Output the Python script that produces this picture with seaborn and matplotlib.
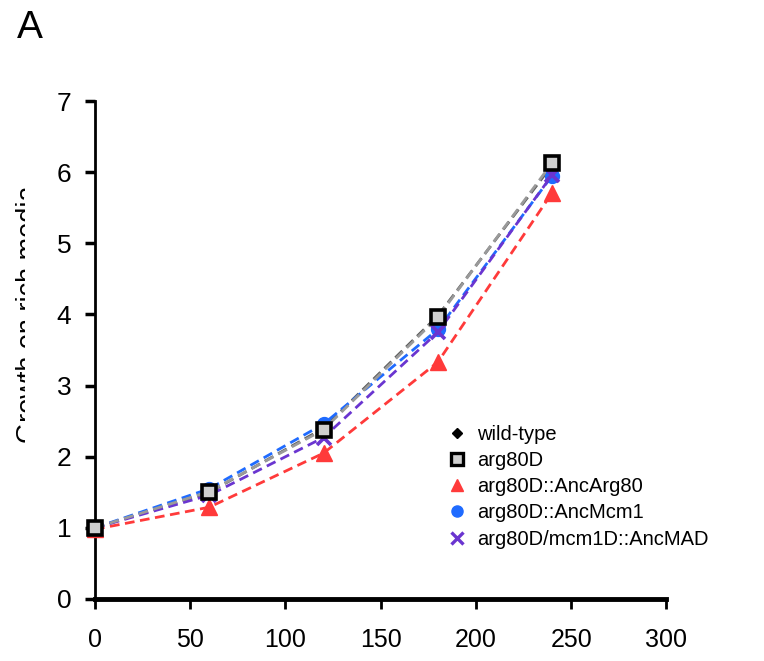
import numpy as np
import pandas as pd
import matplotlib
matplotlib.use("Agg")
import matplotlib.pyplot as plt
import seaborn as sns
from matplotlib.lines import Line2D
from matplotlib.transforms import Bbox, TransformedBbox

# time points (x) and growth values
time_points = [0, 60, 120, 180, 240]
wild_type = [1.0, 1.50, 2.40, 3.98, 6.10]
arg80d = [1.0, 1.51, 2.38, 3.96, 6.13]
anc_arg80 = [0.98, 1.29, 2.05, 3.33, 5.71]
anc_mcm1 = [1.0, 1.55, 2.46, 3.79, 5.95]
anc_mad = [1.0, 1.46, 2.27, 3.75, 5.96]

strain_names = ["wild-type", "arg80D", "arg80D::AncArg80",
                "arg80D::AncMcm1", "arg80D/mcm1D::AncMAD"]
strain_values = [wild_type, arg80d, anc_arg80, anc_mcm1, anc_mad]

# style per strain: line colour, marker, face, edge, marker size, zorder
styles = {
    "wild-type": dict(lc="#5a5a5a", m="D", fc="black", ec="black", ms=7, z=3),
    "arg80D": dict(lc="#9a9a9a", m="s", fc="#cfcfcf", ec="black", ms=10, z=6),
    "arg80D::AncArg80": dict(lc="#ff3a3a", m="^", fc="#ff3a3a", ec="#ff3a3a", ms=11, z=4),
    "arg80D::AncMcm1": dict(lc="#1f6bff", m="o", fc="#1f6bff", ec="#1f6bff", ms=10, z=4),
    "arg80D/mcm1D::AncMAD": dict(lc="#6a35d0", m="x", fc="#6a35d0", ec="#6a35d0", ms=10, z=5),
}

rows = []
for name, vals in zip(strain_names, strain_values):
    for t, v in zip(time_points, vals):
        rows.append({"time": t, "growth": v, "strain": name})
df = pd.DataFrame(rows)

sns.set_style("white")
plt.rcParams["font.family"] = ["Liberation Sans", "DejaVu Sans"]
plt.rcParams["text.color"] = "black"
plt.rcParams["xtick.labelcolor"] = "black"
plt.rcParams["ytick.labelcolor"] = "black"

fig = plt.figure(figsize=(7.64, 6.61), dpi=100)
ax = fig.add_axes([0.1243, 0.0938, 0.7480, 0.7534])

for name in strain_names:
    st = styles[name]
    sub = df[df["strain"] == name]
    sns.lineplot(data=sub, x="time", y="growth", ax=ax, color=st["lc"],
                 linewidth=2, linestyle=(0, (3.5, 2)), marker=st["m"],
                 markersize=st["ms"], markerfacecolor=st["fc"],
                 markeredgecolor=st["ec"],
                 markeredgewidth=2.6 if st["m"] in ("s", "x") else 1,
                 zorder=st["z"], clip_on=False, legend=False)

ax.set_xlim(0, 300)
ax.set_ylim(0, 7)
ax.set_xticks(range(0, 301, 50))
ax.set_yticks(range(0, 8))
ax.set_xlabel("")
ax.set_ylabel("")
for side in ["top", "right"]:
    ax.spines[side].set_visible(False)
ax.spines["left"].set_linewidth(2)
ax.spines["bottom"].set_linewidth(3.5)
ax.spines["left"].set_color("black")
ax.spines["bottom"].set_color("black")
ax.tick_params(axis="y", direction="out", length=7, width=2.5, pad=10,
               labelsize=19, left=True, color="black", labelcolor="black")
ax.tick_params(axis="x", direction="out", length=7, width=2, pad=14,
               labelsize=18, bottom=True, color="black", labelcolor="black")

# legend: markers only
handles = []
for name in strain_names:
    st = styles[name]
    handles.append(Line2D([], [], linestyle="none", marker=st["m"],
                          markersize=st["ms"] * 0.8, markerfacecolor=st["fc"],
                          markeredgecolor=st["ec"],
                          markeredgewidth=2.4 if st["m"] in ("s", "x") else 1))
leg = ax.legend(handles, strain_names, loc="lower left",
                bbox_to_anchor=(0.605, 0.085), frameon=False, fontsize=14.5,
                handlelength=0.8, handletextpad=0.6, labelspacing=0.36,
                borderaxespad=0)

# y label, only the top half of its glyphs shows, as in the original
ylab = fig.text(0.0555, 0.525, "Growth on rich media", rotation=90,
                ha="right", va="center", fontsize=19.5)
ylab.set_clip_on(True)
ylab.set_clip_box(TransformedBbox(Bbox([[0, 0], [0.0327, 1]]), fig.transFigure))

fig.text(0.022, 0.957, "A", fontsize=28, ha="left", va="center")

fig.savefig("out.png", dpi=100)
